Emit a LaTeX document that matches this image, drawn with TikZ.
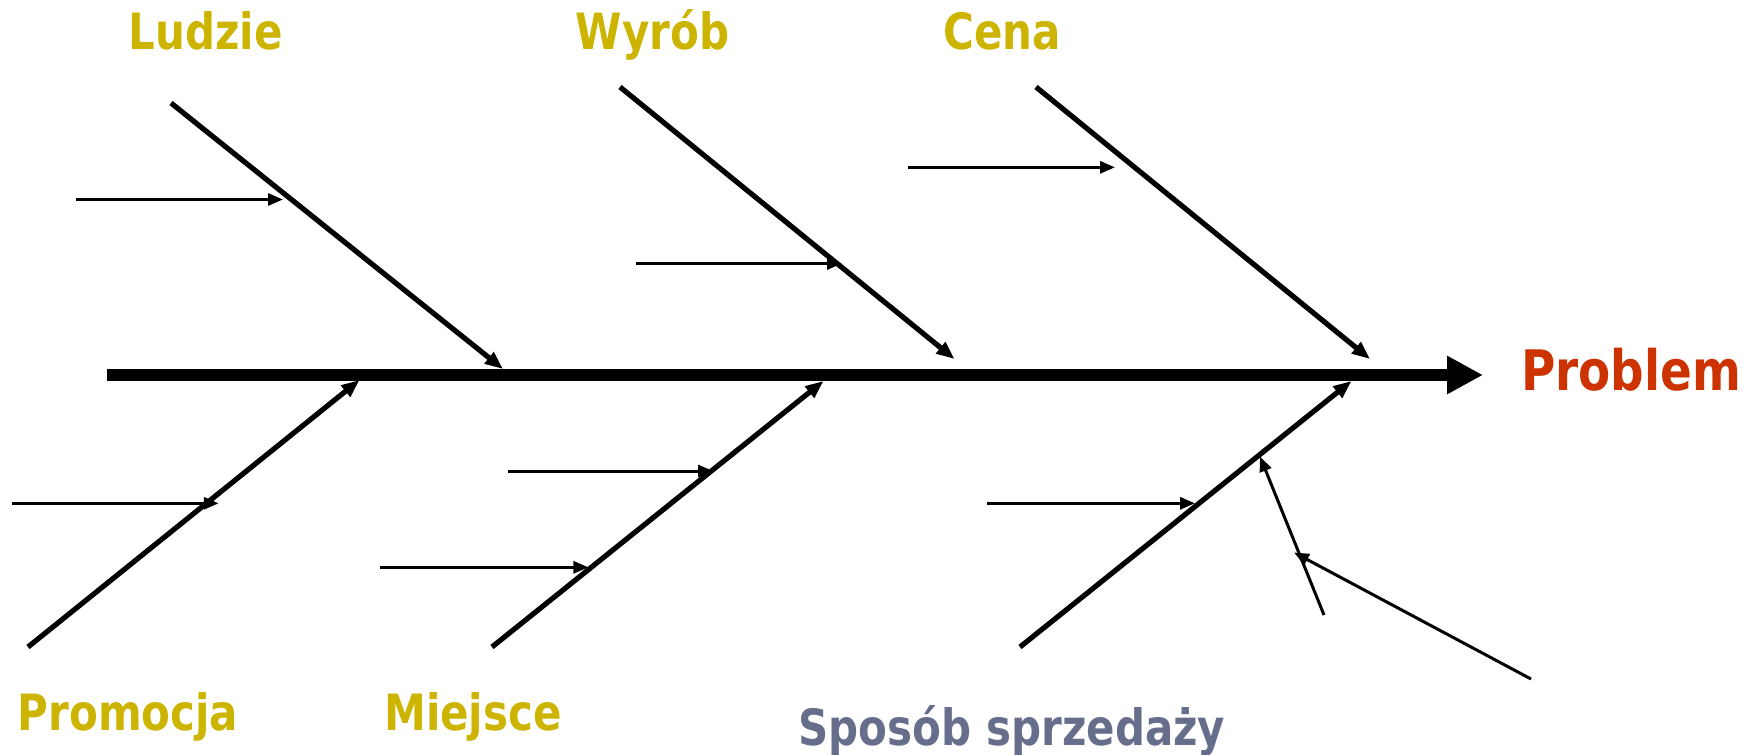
\documentclass[tikz,border=0pt]{standalone}
\usepackage{fontspec}
\usetikzlibrary{arrows.meta}
\newfontfamily\lblfont{DejaVu Sans}[FakeStretch=0.84]
\definecolor{catcol}{RGB}{204,180,0}
\definecolor{probcol}{RGB}{204,51,0}
\definecolor{salecol}{RGB}{102,110,140}
\tikzset{
  spine/.style={line width=6pt,-{Triangle[length=18pt,width=18pt]}},
  bone/.style={line width=2.6pt,-{Triangle[length=9pt,width=7pt]}},
  rib/.style={line width=1.5pt,-{Triangle[length=7.5pt,width=6pt]}},
  cat/.style={text=catcol,font=\lblfont\bfseries\fontsize{25}{30}\selectfont,anchor=base,inner sep=0pt},
}
\begin{document}
\begin{tikzpicture}[x=0.5pt,y=-0.5pt]
\useasboundingbox (0,0) rectangle (1758,755);
% spine and effect
\coordinate (s0) at (107,375);
\coordinate (s1) at (1483,375);
\draw[spine] (s0) -- (s1);
\node[cat,text=probcol,font=\lblfont\bfseries\fontsize{27.9}{32}\selectfont] (prob) at (1631,390.7) {Problem};
% category labels
\node[cat] (ludzie) at (205.5,49) {Ludzie};
\node[cat] (wyrob) at (652.5,49) {Wyrób};
\node[cat] (cena) at (1002,49) {Cena};
\node[cat] (promo) at (128,730.7) {Promocja};
\node[cat] (miej) at (473,730.7) {Miejsce};
\node[cat,text=salecol] (spos) at (1012,745.7) {Sposób sprzedaży};
% main bones
\coordinate (l0) at (171,103);  \coordinate (l1) at (503,369);
\coordinate (w0) at (620,87);   \coordinate (w1) at (954.5,359);
\coordinate (c0) at (1036,87);  \coordinate (c1) at (1370,359);
\coordinate (p0) at (28,647);   \coordinate (p1) at (359.5,380);
\coordinate (m0) at (492,647);  \coordinate (m1) at (823.5,381);
\coordinate (z0) at (1020,647); \coordinate (z1) at (1351.5,381);
\draw[bone] (l0) -- (l1);
\draw[bone] (w0) -- (w1);
\draw[bone] (c0) -- (c1);
\draw[bone] (p0) -- (p1);
\draw[bone] (m0) -- (m1);
\draw[bone] (z0) -- (z1);
% sub-causes
\coordinate (la) at (76,199.5);    \coordinate (lb) at (283,199.5);
\coordinate (wa) at (636,263.5);   \coordinate (wb) at (842,263.5);
\coordinate (ca) at (908,167.3);   \coordinate (cb) at (1115,167.3);
\coordinate (pa) at (11.6,503.3);  \coordinate (pb) at (218.75,503.3);
\coordinate (ma) at (508,471);     \coordinate (mb) at (713,471);
\coordinate (na) at (379.5,567.3); \coordinate (nb) at (588.4,567.3);
\coordinate (za) at (987,503.3);   \coordinate (zb) at (1195,503.3);
\coordinate (ta) at (1324,615);    \coordinate (tb) at (1260,456.5);
\coordinate (ua) at (1531,679);    \coordinate (ub) at (1294,552.5);
\draw[rib] (la) -- (lb);
\draw[rib] (wa) -- (wb);
\draw[rib] (ca) -- (cb);
\draw[rib] (pa) -- (pb);
\draw[rib] (ma) -- (mb);
\draw[rib] (na) -- (nb);
\draw[rib] (za) -- (zb);
\draw[rib] (ta) -- (tb);
\draw[rib] (ua) -- (ub);
\end{tikzpicture}
\end{document}
